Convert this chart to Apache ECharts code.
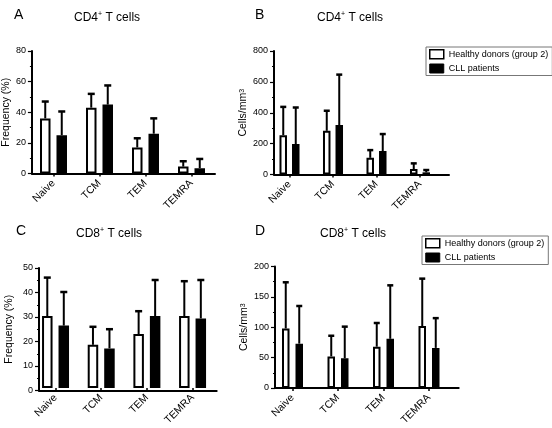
<!DOCTYPE html>
<html>
<head>
<meta charset="utf-8">
<script src="https://cdn.jsdelivr.net/npm/echarts@6/dist/echarts.min.js"></script>
<style>
html, body { margin: 0; padding: 0; background: #fff; }
#main { width: 552px; height: 428px; }
</style>
</head>
<body>
<div id="main"></div>
<script>
var categories = ['Naive', 'TCM', 'TEM', 'TEMRA'];
var seriesNames = ['Healthy donors (group 2)', 'CLL patients'];

// A: CD4+ frequency (%)
var cd4FreqHealthy = [36, 43, 17, 4.5];
var cd4FreqHealthySd = [11, 9, 6, 3.5];
var cd4FreqCll = [25, 45, 26, 3.5];
var cd4FreqCllSd = [15.5, 12.5, 10, 6];

// B: CD4+ cells/mm3
var cd4CountHealthy = [255, 283, 108, 35];
var cd4CountHealthySd = [183, 130, 50, 37];
var cd4CountCll = [197, 320, 152, 14];
var cd4CountCllSd = [237, 327, 110, 15];

// C: CD8+ frequency (%)
var cd8FreqHealthy = [30, 18, 22.5, 30];
var cd8FreqHealthySd = [16, 7.5, 9.5, 14.5];
var cd8FreqCll = [26, 16.5, 30, 29];
var cd8FreqCllSd = [14, 8, 15, 16];

// D: CD8+ cells/mm3
var cd8CountHealthy = [98, 52, 68, 102];
var cd8CountHealthySd = [76, 34, 39, 78];
var cd8CountCll = [73, 49, 81, 66];
var cd8CountCllSd = [62, 52, 88, 49];

// y axis ranges: [max, interval]
var freqCd4Axis = [80, 20];
var countCd4Axis = [800, 200];
var freqCd8Axis = [50, 10];
var countCd8Axis = [200, 50];

var font = 'Liberation Sans, Arial, sans-serif';
var freqName = 'Frequency (%)';
var countName = '{a|Cells/mm}{s|3}';

var grids = [], xAxes = [], yAxes = [], series = [];

function errorItem(offset, cap) {
    return function (params, api) {
        var i = api.value(0);
        var v = api.value(1);
        var sd = api.value(2);
        var base = api.coord([i, v]);
        var top = api.coord([i, v + sd]);
        var x = base[0] + offset;
        return {
            type: 'group',
            children: [
                { type: 'line', shape: { x1: x, y1: base[1], x2: x, y2: top[1] },
                  style: { stroke: '#000', lineWidth: 2 } },
                { type: 'line', shape: { x1: x - cap, y1: top[1], x2: x + cap, y2: top[1] },
                  style: { stroke: '#000', lineWidth: 2.5 } }
            ]
        };
    };
}

function addPanel(p) {
    var gi = grids.length;
    var h = p.bottom - p.top;
    // frame grid: the visible y axis and the x axis line
    grids.push({ left: p.axisX, top: p.top, width: p.axisEnd - p.axisX, height: h });
    // bars grid: category positions
    grids.push({ left: p.barsLeft, top: p.top, width: p.barsWidth, height: h });

    var fx = xAxes.length;
    xAxes.push({
        gridIndex: gi, type: 'value', min: 0, max: 1,
        axisLine: { show: true, lineStyle: { color: '#000', width: 2 } },
        axisTick: { show: false }, axisLabel: { show: false }, splitLine: { show: false }
    });
    xAxes.push({
        gridIndex: gi + 1, type: 'category', data: categories,
        axisLine: { show: false },
        axisTick: { show: true, alignWithLabel: true, length: 3, lineStyle: { color: '#000', width: 1.5 } },
        axisLabel: { rotate: 45, fontSize: 10.5, margin: 8, color: '#000', fontFamily: font }
    });
    var fy = yAxes.length;
    yAxes.push({
        gridIndex: gi, type: 'value', min: 0, max: p.axis[0], interval: p.axis[1],
        name: p.yName, nameLocation: 'middle', nameGap: p.nameGap,
        nameTextStyle: {
            fontSize: 10.5, color: '#000', fontFamily: font,
            rich: {
                a: { fontSize: 10.5, color: '#000', fontFamily: font },
                s: { fontSize: 7, color: '#000', fontFamily: font, verticalAlign: 'top', lineHeight: 7 }
            }
        },
        axisLine: { show: true, lineStyle: { color: '#000', width: 2 } },
        axisTick: { show: true, length: 4, lineStyle: { color: '#000', width: 1.2 } },
        minorTick: { show: true, splitNumber: 2, length: 2, lineStyle: { color: '#000', width: 1 } },
        axisLabel: { fontSize: 9, color: '#000', margin: 6, fontFamily: font },
        splitLine: { show: false }, minorSplitLine: { show: false }
    });
    yAxes.push({ gridIndex: gi + 1, type: 'value', min: 0, max: p.axis[0], show: false });

    var bx = fx + 1, by = fy + 1;
    var off = (p.barWidth + p.gapPx) / 2;
    var gap = Math.round(p.gapPx / p.barWidth * 100) + '%';
    series.push({
        type: 'bar', name: seriesNames[0], xAxisIndex: bx, yAxisIndex: by,
        data: p.healthy, barWidth: p.barWidth, barGap: gap,
        itemStyle: { color: '#fff', borderColor: '#000', borderWidth: 2 }
    });
    series.push({
        type: 'bar', name: seriesNames[1], xAxisIndex: bx, yAxisIndex: by,
        data: p.cll, barWidth: p.barWidth, barGap: gap,
        itemStyle: { color: '#000', borderColor: '#000', borderWidth: 2 }
    });
    series.push({
        type: 'custom', xAxisIndex: bx, yAxisIndex: by, z: 3, silent: true,
        renderItem: errorItem(-off, p.cap),
        data: p.healthy.map(function (v, i) { return [i, v, p.healthySd[i]]; })
    });
    series.push({
        type: 'custom', xAxisIndex: bx, yAxisIndex: by, z: 3, silent: true,
        renderItem: errorItem(off, p.cap),
        data: p.cll.map(function (v, i) { return [i, v, p.cllSd[i]]; })
    });
}

addPanel({ axisX: 30, axisEnd: 215, top: 51, bottom: 173.5, barsLeft: 30.5, barsWidth: 184,
    axis: freqCd4Axis, yName: freqName, nameGap: 16, barWidth: 10.5, gapPx: 6, cap: 3.5,
    healthy: cd4FreqHealthy, healthySd: cd4FreqHealthySd, cll: cd4FreqCll, cllSd: cd4FreqCllSd });
addPanel({ axisX: 274, axisEnd: 449, top: 51, bottom: 174.5, barsLeft: 267.75, barsWidth: 174,
    axis: countCd4Axis, yName: countName, nameGap: 22, barWidth: 7.5, gapPx: 5, cap: 3,
    healthy: cd4CountHealthy, healthySd: cd4CountHealthySd, cll: cd4CountCll, cllSd: cd4CountCllSd });
addPanel({ axisX: 39, axisEnd: 216.7, top: 268, bottom: 390.5, barsLeft: 32.7, barsWidth: 182.7,
    axis: freqCd8Axis, yName: freqName, nameGap: 24, barWidth: 10.5, gapPx: 6, cap: 3.5,
    healthy: cd8FreqHealthy, healthySd: cd8FreqHealthySd, cll: cd8FreqCll, cllSd: cd8FreqCllSd });
addPanel({ axisX: 275, axisEnd: 458.7, top: 266.5, bottom: 388, barsLeft: 269.75, barsWidth: 182,
    axis: countCd8Axis, yName: countName, nameGap: 23, barWidth: 7.5, gapPx: 6, cap: 3,
    healthy: cd8CountHealthy, healthySd: cd8CountHealthySd, cll: cd8CountCll, cllSd: cd8CountCllSd });

var legendData = [
    { name: seriesNames[0], icon: 'rect', itemStyle: { color: '#fff', borderColor: '#000', borderWidth: 1.5 } },
    { name: seriesNames[1], icon: 'rect', itemStyle: { color: '#000', borderColor: '#000', borderWidth: 1 } }
];
function legendAt(left, top) {
    return {
        left: left, top: top, orient: 'vertical', data: legendData,
        itemWidth: 14, itemHeight: 9, itemGap: 4, itemTextGap: 4,
        padding: [2, 4, 2, 3], borderColor: '#777', borderWidth: 1,
        selectedMode: false,
        textStyle: { fontSize: 9, color: '#000', fontFamily: font }
    };
}

function letter(t, left, top) {
    return { text: t, left: left, top: top, padding: 0,
        textStyle: { fontSize: 14, fontWeight: 'normal', color: '#000', fontFamily: font } };
}
function panelTitle(t, left, top) {
    return { text: t, left: left, top: top, padding: 0,
        textStyle: {
            fontSize: 12, fontWeight: 'normal', color: '#000', fontFamily: font,
            rich: {
                m: { fontSize: 12, color: '#000', fontFamily: font, lineHeight: 14 },
                s: { fontSize: 7, color: '#000', fontFamily: font, verticalAlign: 'top', lineHeight: 7 }
            }
        } };
}

var myChart = echarts.init(document.getElementById('main'));
myChart.setOption({
    backgroundColor: '#fff',
    animation: false,
    title: [
        letter('A', 14, 8), panelTitle('{m|CD4}{s|+}{m| T cells}', 74, 11),
        letter('B', 255, 8), panelTitle('{m|CD4}{s|+}{m| T cells}', 317, 11),
        letter('C', 16, 224), panelTitle('{m|CD8}{s|+}{m| T cells}', 76, 227),
        letter('D', 255, 224), panelTitle('{m|CD8}{s|+}{m| T cells}', 320, 227)
    ],
    legend: [legendAt(426, 47), legendAt(422, 236)],
    grid: grids,
    xAxis: xAxes,
    yAxis: yAxes,
    series: series
});
</script>
</body>
</html>
